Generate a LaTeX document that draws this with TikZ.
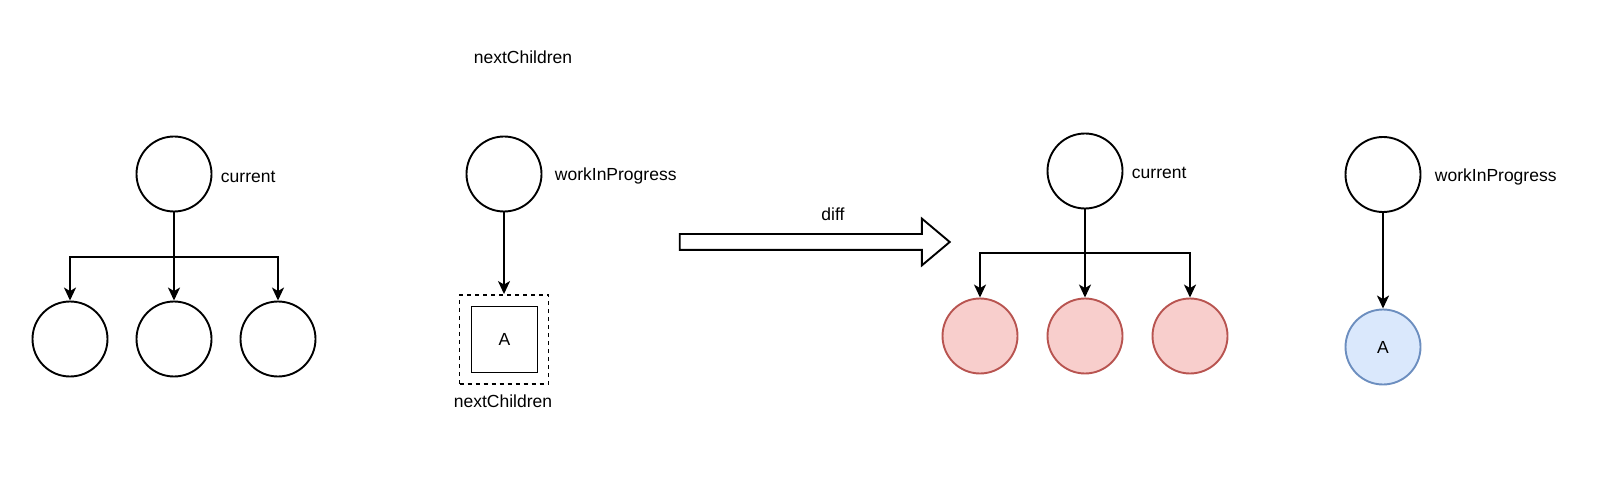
\documentclass[tikz,border=0pt]{standalone}
\usepackage{fontspec}
\setmainfont{Liberation Sans}
\usetikzlibrary{positioning}
\usetikzlibrary{shapes.arrows}
\usetikzlibrary{arrows.meta}

\definecolor{rojofondo}{HTML}{F8CECC}
\definecolor{rojoborde}{HTML}{B85450}
\definecolor{azulfondo}{HTML}{DAE8FC}
\definecolor{azulborde}{HTML}{6C8EBF}

\begin{document}
\begin{tikzpicture}[x=1pt, y=-1pt, line width=1.9pt,
    every node/.style={font=\fontsize{17.5}{21}\selectfont},
    nodo/.style={draw, circle, minimum size=75pt, inner sep=0pt},
    rojo/.style={nodo, fill=rojofondo, draw=rojoborde},
    azul/.style={nodo, fill=azulfondo, draw=azulborde},
    etiqueta/.style={inner sep=0pt},
    arista/.style={-{Stealth[length=13pt, width=12pt, inset=3.5pt]}}]
  \useasboundingbox (0,0) rectangle (1598,494);

  % Nodos
  \node[nodo] (cur) at (174,174) {};
  \node[nodo] (c1) at (70,339) {};
  \node[nodo] (c2) at (174,339) {};
  \node[nodo] (c3) at (278,339) {};
  \node[etiqueta, anchor=west] (curlbl) at (220,177) {current};

  \node[etiqueta] (nctop) at (523,57) {nextChildren};
  \node[nodo] (wip) at (504,174) {};
  \node[etiqueta, anchor=west] (wiplbl) at (554,176) {workInProgress};
  \node[draw, dash pattern=on 4pt off 4pt, minimum width=89pt, minimum height=89pt] (nc) at (504,339.5) {};
  \node[draw, minimum size=66pt, inner sep=0pt] (a1) at (504.5,339.5) {A};
  \node[etiqueta] (nclbl) at (503,401) {nextChildren};

  \node[draw, single arrow, minimum height=270pt, inner xsep=0pt, inner ysep=7pt,
        single arrow head extend=15.5pt, single arrow tip angle=80] (flecha) at (810,242) {};
  \node[etiqueta] (difflbl) at (833,214) {diff};

  \node[nodo] (cur2) at (1085,171) {};
  \node[rojo] (d1) at (980,336) {};
  \node[rojo] (d2) at (1085,336) {};
  \node[rojo] (d3) at (1190,336) {};
  \node[etiqueta, anchor=west] (cur2lbl) at (1131,173) {current};

  \node[nodo] (wip2) at (1383,174.5) {};
  \node[etiqueta, anchor=west] (wip2lbl) at (1434,177) {workInProgress};
  \node[azul] (a2) at (1383,347) {A};

  % Aristas
  \coordinate (b1) at (174,256.7);
  \coordinate (b2) at (1085,252.7);
  \draw[arista] (cur) -- (b1) -| (c1);
  \draw[arista] (cur) -- (c2);
  \draw[arista] (cur) -- (b1) -| (c3);
  \draw[arista] (wip) -- (nc);
  \draw[arista] (cur2) -- (b2) -| (d1);
  \draw[arista] (cur2) -- (d2);
  \draw[arista] (cur2) -- (b2) -| (d3);
  \draw[arista] (wip2) -- (a2);
\end{tikzpicture}
\end{document}
